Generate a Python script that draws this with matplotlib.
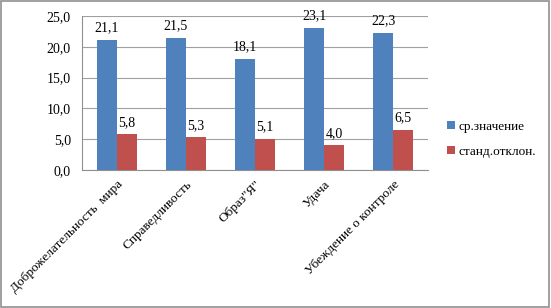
import matplotlib.pyplot as plt
import numpy as np

categories = ['Доброжелательность  мира', 'Справедливость', 'Образ"Я"', 'Удача', 'Убеждение о контроле']
mean_vals = [21.1, 21.5, 18.1, 23.1, 22.3]
std_vals = [5.8, 5.3, 5.1, 4.0, 6.5]
series_names = ['ср.значение', 'станд.отклон.']
yticks = [0, 5, 10, 15, 20, 25]

plt.rcParams['font.family'] = ['Liberation Serif', 'DejaVu Serif']
plt.rcParams['font.size'] = 10

fig = plt.figure(figsize=(5.51, 3.08), dpi=100)
ax = fig.add_axes([82 / 551, 1 - 170 / 308, 346 / 551, 154 / 308])

x = np.arange(len(categories))
w = 0.29
b1 = ax.bar(x - w / 2, mean_vals, w, color='#4f81bd', label=series_names[0], zorder=3)
b2 = ax.bar(x + w / 2, std_vals, w, color='#c0504d', label=series_names[1], zorder=3)

def fmt(v):
    return ('%.1f' % v).replace('.', ',')

for bars, vals in ((b1, mean_vals), (b2, std_vals)):
    for r, v in zip(bars, vals):
        ax.annotate(fmt(v), (r.get_x() + r.get_width() / 2, v), xytext=(0, 4),
                    textcoords='offset points', ha='center', va='bottom', fontsize=10)

ax.set_ylim(0, 25)
ax.set_xlim(-0.5, len(categories) - 0.5)
ax.set_yticks(yticks)
ax.set_yticklabels([fmt(t) for t in yticks], fontsize=10)
ax.yaxis.grid(True, color='#a0a0a0', linewidth=0.8, zorder=0)
ax.set_xticks(x)
ax.set_xticklabels(categories, rotation=45, ha='right', rotation_mode='anchor', fontsize=9.5)
ax.tick_params(axis='x', length=0, pad=6)
ax.tick_params(axis='y', length=0, pad=8)
for s in ['top', 'right']:
    ax.spines[s].set_visible(False)
for s in ['left', 'bottom']:
    ax.spines[s].set_color('#909090')

ax.legend(loc='center left', bbox_to_anchor=(1.02, 0.2), frameon=False,
          handlelength=0.6, handleheight=0.6, handletextpad=0.3, labelspacing=1.0, fontsize=9.5)

fig.patches.append(plt.Rectangle((0.002, 0.003), 0.995, 0.993, transform=fig.transFigure,
                                 fill=False, edgecolor='#909090', linewidth=1.2))

fig.savefig('out.png', dpi=100)
